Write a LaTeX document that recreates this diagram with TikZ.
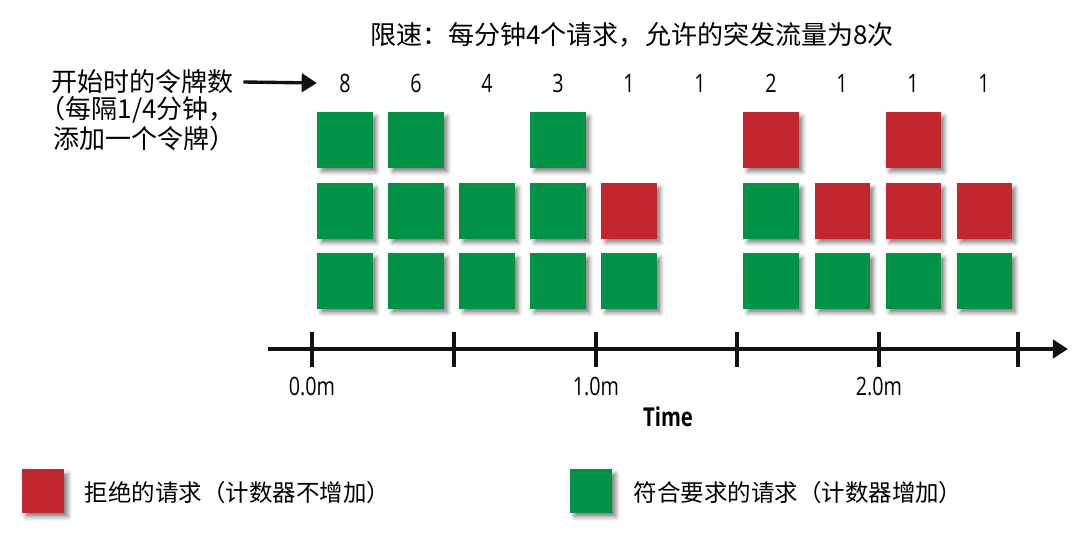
\documentclass[tikz,border=0pt]{standalone}
\usepackage{fontspec}
\setmainfont{Noto Sans CJK SC}
\newfontfamily\numfont[FakeStretch=0.78]{Open Sans}
\usetikzlibrary{arrows.meta,shadows.blur}
\definecolor{okgreen}{HTML}{009245}
\definecolor{dropred}{HTML}{C1272D}
\definecolor{axisblack}{HTML}{111111}

\begin{document}
\begin{tikzpicture}[x=0.025cm, y=-0.025cm, >={Triangle[length=0.38cm, width=0.46cm]}, line width=2.4pt]
  \useasboundingbox (0,0) rectangle (1080,534);
  \tikzset{
    reqbox/.style={minimum size=1.375cm, inner sep=0pt,
      blur shadow={shadow xshift=2.8pt, shadow yshift=-3pt, shadow blur radius=3pt, shadow opacity=50}},
    keybox/.style={reqbox, minimum width=1.05cm, minimum height=1.08cm},
    cjk/.style={font=\fontsize{18.5}{20.3}\selectfont, inner sep=0pt},
    keytext/.style={font=\fontsize{16.7}{20}\selectfont, inner sep=0pt, anchor=west},
    num/.style={font=\numfont\fontsize{18}{20}\selectfont, inner sep=0pt},
  }
  % title and the token counts
  \node[cjk] (title) at (632,35) {限速：每分钟4个请求，允许的突发流量为8次};
  \node[cjk, anchor=west] (tok1) at (50,82) {开始时的令牌数};
  \node[cjk, anchor=west] (tok2) at (38,110) {（每隔1/4分钟，};
  \node[cjk, anchor=west] (tok3) at (52,139) {添加一个令牌）};
  \foreach \c/\n in {1/8,2/6,3/4,4/3,5/1,6/1,7/2,8/1,9/1,10/1}
    \node[num] (n\c) at ({345+71*(\c-1)},83) {\n};
  \draw[axisblack, ->] ([xshift=0.2cm]tok1.east) -- ([xshift=-0.52cm]n1.west);

  % requests, row by row
  \foreach \c/\k in {1/okgreen,2/okgreen,4/okgreen,7/dropred,9/dropred}
    \node[reqbox, fill=\k] (top\c) at ({345+71*(\c-1)},140) {};
  \foreach \c/\k in {1/okgreen,2/okgreen,3/okgreen,4/okgreen,5/dropred,7/okgreen,8/dropred,9/dropred,10/dropred}
    \node[reqbox, fill=\k] (mid\c) at ({345+71*(\c-1)},211) {};
  \foreach \c in {1,2,3,4,5,7,8,9,10}
    \node[reqbox, fill=okgreen] (low\c) at ({345+71*(\c-1)},281) {};

  % time axis
  \coordinate (axL) at (268,349);
  \coordinate (axR) at (1068,349);
  \draw[axisblack, ->] (axL) -- (axR);
  \foreach \i/\x in {0/312,1/454,2/596,3/737,4/879,5/1018} {
    \coordinate (t\i) at (\x,349);
    \draw[axisblack] (t\i) ++(0,-17) -- ++(0,35);
  }
  \node[num] (lab0) at (312,386) {0.0m};
  \node[num] (lab2) at (596,386) {1.0m};
  \node[num] (lab4) at (879,386) {2.0m};
  \node[num, font=\numfont\bfseries\fontsize{18.5}{20}\selectfont] (timelbl) at (668,417) {Time};

  % legend
  \node[keybox, fill=dropred] (keyred) at (43,491) {};
  \node[keytext] (keyredtxt) at (83,493) {拒绝的请求（计数器不增加）};
  \node[keybox, fill=okgreen] (keygreen) at (591,491) {};
  \node[keytext] (keygreentxt) at (632,493) {符合要求的请求（计数器增加）};
\end{tikzpicture}
\end{document}
